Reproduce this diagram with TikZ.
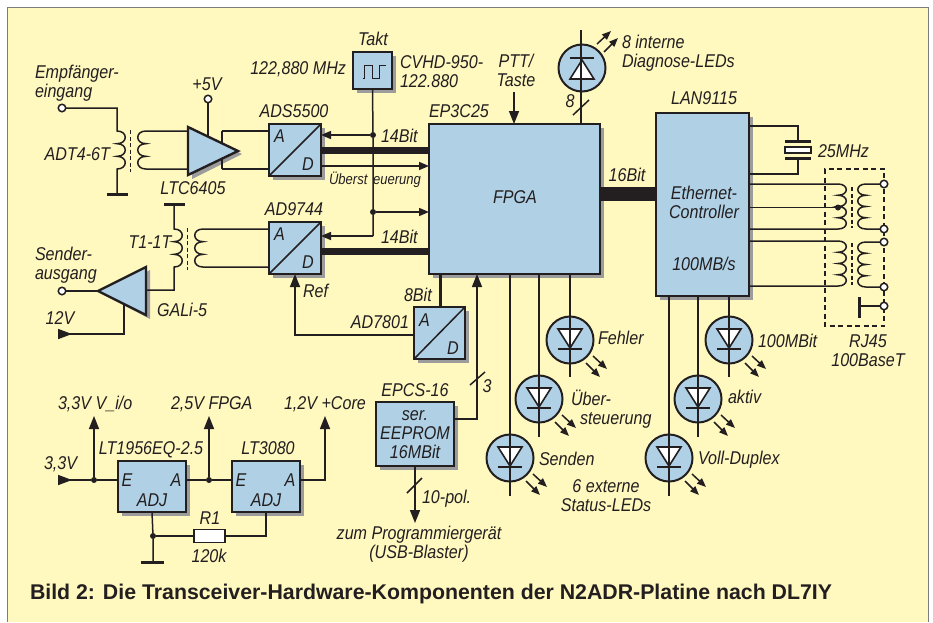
\documentclass[tikz,border=0pt]{standalone}
\usepackage{fontspec}
\setmainfont{Liberation Sans}[FakeStretch=0.87]
\newfontfamily\capfont{Liberation Sans}
\usetikzlibrary{arrows.meta,calc}
\definecolor{bgc}{HTML}{FFF8BF}
\definecolor{ink}{HTML}{231F20}
\definecolor{blu}{HTML}{B0D1E5}
\definecolor{shd}{HTML}{9C9C9C}
\newcommand\labfont{\fontsize{18.5}{19}\selectfont\itshape}
\newcommand\tops{\rule{0pt}{13.5pt}}
\newcommand\bots{\rule[-5pt]{0pt}{5pt}}
\newcommand\blk[5]{%
  \fill[shd] ({#2-#4/2+3.5},{#3-#5/2+3.5}) rectangle ({#2+#4/2+4},{#3+#5/2+4});
  \node[bx,minimum width=#4pt,minimum height=#5pt] (#1) at (#2,#3) {};}
\newcommand\led[1]{%
  \begin{scope}[shift={(#1)}]
    \draw[diode,fill=white] (-12,-11) -- (12,-11) -- (0,8) -- cycle;
    \draw[line width=2.6pt,ink] (-12,9) -- (12,9);
    \draw[lite] (23,16) -- (37,29);
    \draw[lite] (16,23) -- (30,37);
  \end{scope}}
\tikzset{
  wire/.style={draw=ink,line width=1.5pt},
  corel/.style={draw=ink,line width=1.5pt,dash pattern=on 4pt off 2.5pt},
  bus/.style={draw=ink,line width=7pt},
  tip/.style={wire,-{Triangle[length=10pt,width=8pt]}},
  bigtip/.style={wire,-{Triangle[length=13pt,width=10pt]}},
  lite/.style={wire,-{Triangle[length=9pt,width=7pt]}},
  diode/.style={draw=ink,line width=1.6pt},
  bx/.style={draw=ink,fill=blu,line width=2.2pt,inner sep=0pt,outer sep=0pt},
  ledc/.style={circle,draw=ink,fill=blu,line width=2pt,minimum size=47pt,inner sep=0pt,outer sep=0pt},
  term/.style={circle,draw=ink,fill=white,line width=1.5pt,minimum size=7.5pt,inner sep=0pt,outer sep=0pt},
  jun/.style={circle,fill=ink,minimum size=6pt,inner sep=0pt,outer sep=0pt},
  gnd/.style={draw=ink,line width=3pt},
  lab/.style={font=\labfont,text=ink,inner sep=0pt,outer sep=0pt,text height=13.5pt,text depth=5pt,yshift=-2.5pt},
  labm/.style={font=\labfont,text=ink,inner sep=0pt,outer sep=0pt,yshift=-2.5pt},
}
\begin{document}
\begin{tikzpicture}[x=1pt,y=-1pt]
\useasboundingbox (0,0) rectangle (933,622);
\fill[white] (0,0) rectangle (933,622);
\fill[bgc] (7,7) rectangle (928,622);
\draw[shd!80!black,line width=1pt] (7,622) -- (7,7) -- (928,7) -- (928,622);

% blocks
\blk{fpga}{514.5}{199}{171}{150}
\blk{lan}{702.5}{204.5}{93}{183}
\blk{ads}{295}{150}{52}{52}
\blk{dac}{295}{248}{52}{52}
\blk{ad78}{439.5}{333}{51}{52}
\blk{takt}{372.5}{70.5}{39}{37}
\blk{eep}{415}{434}{78}{64}
\blk{lt1}{152}{486.5}{68}{51}
\blk{lt2}{266}{486.5}{68}{51}

% converter diagonals, clock symbol
\draw[wire] (ads.south west) -- (ads.north east);
\draw[wire] (dac.south west) -- (dac.north east);
\draw[wire] (ad78.south west) -- (ad78.north east);
\draw[wire] ($(takt.center)+(-10,8)$) -- ++(2,0) -- ++(0,-13) -- ++(8,0) -- ++(0,13) -- ++(7,0) -- ++(0,-13) -- ++(6,0);

% amplifiers
\fill[shd] (192,130) -- (192,179) -- (242,154) -- cycle;
\fill[shd] (150,270) -- (150,319) -- (102,294) -- cycle;
\coordinate (ampaT) at (188,131);
\coordinate (ampaB) at (188,169);
\coordinate (ampbI) at (146,290);
\coordinate (ampbT) at (98,291);
\draw[wire] (222,131) -- (ads.west |- 0,131);
\draw[wire] (222,169) -- (ads.west |- 0,169);
\draw[wire] (222,131) -- (222,169);
\draw[draw=ink,fill=blu,line width=2.4pt,line join=miter] (188,127) -- (188,175) -- (238,151) -- cycle;
\draw[draw=ink,fill=blu,line width=2.4pt,line join=miter] (146,267) -- (146,315) -- (98,291) -- cycle;

% terminals
\node[term] (tin) at (62,108) {};
\node[term] (t5v) at (208,99) {};
\node[term] (tout) at (62,291) {};
\coordinate (gnda) at (117,194);
\coordinate (gndb) at (174,204);

% input transformer
\def\coilh{12.67}
\draw[wire] (tin) -- (117,108) -- (117,131) \foreach \i in {1,2,3}{ .. controls +(11,0) and +(11,0) .. ++(0,\coilh)} -- (gnda);
\draw[gnd] (107,194.5) -- (128,194.5);
\draw[corel] (130.5,130) -- (130.5,172);
\draw[wire] (ampaT) -- (146,131) \foreach \i in {1,2,3}{ .. controls +(-11,0) and +(-11,0) .. ++(0,\coilh)} -- (ampaB);
\draw[wire] (t5v) -- (208,136);

% output transformer
\draw[wire] (ampbI) -- (174,290) -- (174,267) \foreach \i in {1,2,3}{ .. controls +(11,0) and +(11,0) .. ++(0,-\coilh)} -- (gndb);
\draw[gnd] (164,204.5) -- (185,204.5);
\draw[corel] (187.5,228) -- (187.5,270);
\draw[wire] (dac.west |- 0,229) -- (203,229) \foreach \i in {1,2,3}{ .. controls +(-11,0) and +(-11,0) .. ++(0,\coilh)} -- (dac.west |- 0,267);
\draw[wire] (tout) -- (ampbT);
\draw[wire,{Triangle[length=14pt,width=10pt,reversed]}-] (58,334) -- (124,334) -- (124,304);

% clock distribution
\node[jun] (j1) at (373,135) {};
\node[jun] (j2) at (373,212) {};
\draw[wire] (takt.south) -- (j1) -- (j2) -- (373,236);
\draw[tip] (373,236) -- (dac.east |- 0,236);
\draw[tip] (j1) -- (ads.east |- j1);
\draw[tip] (j2) -- (fpga.west |- j2);
\draw[bus] (ads.east |- 0,150) -- (fpga.west |- 0,150);
\draw[bus] (dac.east |- 0,251) -- (fpga.west |- 0,251);
\draw[tip] (ads.east |- 0,166) -- (fpga.west |- 0,166);

% ref / AD7801 / EEPROM to FPGA
\draw[bigtip] (ad78.west |- 0,335) -- (295,335) -- (dac.south -| 295,0);
\draw[draw=ink,line width=3pt] (fpga.south -| 440,0) -- (ad78.north -| 440,0);
\draw[bigtip] (eep.east |- 0,419) -- (477,419) -- (fpga.south -| 477,0);
\draw[wire] (470,385) -- (485,372);

% top of FPGA
\coordinate (ptt) at (514,92);
\draw[bigtip] (ptt) -- (ptt |- fpga.north);
\node[ledc] (ledi) at (582,68) {};
\begin{scope}[shift={(ledi)}]
  \draw[diode,fill=white] (-12,11) -- (12,11) -- (0,-8) -- cycle;
  \draw[line width=2.6pt,ink] (-12,-10) -- (12,-10);
  \draw[lite] (15,-24) -- (29,-37);
  \draw[lite] (22,-16) -- (36,-30);
\end{scope}
\coordinate (ledt) at (581,30);
\draw[wire] (ledt) -- (ledt |- fpga.north);
\draw[wire] (573,115) -- (589,100);

% bus FPGA - LAN
\draw[draw=ink,line width=14pt] (fpga.east |- 0,194) -- (lan.west |- 0,194);

% status LEDs
\node[ledc] (l1) at (570,340) {};
\node[ledc] (l2) at (539,399) {};
\node[ledc] (l3) at (510,458) {};
\node[ledc] (l4) at (729,340) {};
\node[ledc] (l5) at (698,399) {};
\node[ledc] (l6) at (669,458) {};
\led{l1}\led{l2}\led{l3}\led{l4}\led{l5}\led{l6}
\draw[wire] (l1 |- fpga.south) -- (l1 |- 0,377);
\draw[wire] (l2 |- fpga.south) -- (l2 |- 0,437);
\draw[wire] (l3 |- fpga.south) -- (l3 |- 0,496);
\draw[wire] (l4 |- lan.south) -- (l4 |- 0,377);
\draw[wire] (l5 |- lan.south) -- (l5 |- 0,437);
\draw[wire] (l6 |- lan.south) -- (l6 |- 0,496);

% crystal
\draw[wire] (lan.east |- 0,126) -- (798,126) -- (798,141);
\draw[wire] (798,158) -- (798,174) -- (lan.east |- 0,174);
\draw[gnd] (785,141) -- (811,141);
\draw[gnd] (785,158) -- (811,158);
\draw[draw=ink,fill=white,line width=1.8pt] (785,147) rectangle (811,153);

% RJ45 transformers
\def\coilh{11.25}
\draw[wire] (lan.east |- 0,184) -- (838,184) \foreach \i in {1,2,3,4}{ .. controls +(11,0) and +(11,0) .. ++(0,\coilh)} -- (lan.east |- 0,229);
\node[jun] (jt) at (838,207.5) {};
\draw[wire] (lan.east |- 0,207.5) -- (jt);
\draw[wire] (lan.east |- 0,241) -- (838,241) \foreach \i in {1,2,3,4}{ .. controls +(11,0) and +(11,0) .. ++(0,\coilh)} -- (lan.east |- 0,286);
\draw[corel] (852,187) -- (852,228);
\draw[corel] (852,243) -- (852,285);
\draw[corel,dash pattern=on 5pt off 3.5pt] (884,178) -- (884,169) -- (825,169) -- (825,326) -- (884,326) -- (884,184);
\node[term] (r1) at (884,184) {};
\node[term] (r2) at (884,229) {};
\node[term] (r3) at (884,242) {};
\node[term] (r4) at (884,287) {};
\node[term] (r5) at (884,306) {};
\draw[wire] (r1) -- (866,184) \foreach \i in {1,2,3,4}{ .. controls +(-11,0) and +(-11,0) .. ++(0,\coilh)} -- (r2);
\draw[wire] (r3) -- (866,242) \foreach \i in {1,2,3,4}{ .. controls +(-11,0) and +(-11,0) .. ++(0,\coilh)} -- (r4);
\draw[gnd] (859,297) -- (859,318);
\draw[wire] (859,306) -- (r5);

% EEPROM output
\draw[bigtip] (eep.south) -- (415,523);
\draw[wire] (407,493) -- (422,478);

% power section
\node[jun] (j3) at (94,480) {};
\node[jun] (j4) at (209,480) {};
\node[jun] (j5) at (153,536) {};
\draw[wire,{Triangle[length=14pt,width=10pt,reversed]}-] (58,480) -- (j3);
\draw[wire] (j3) -- (lt1.west |- j3);
\draw[bigtip] (j3) -- (94,416);
\draw[wire] (lt1.east |- j4) -- (j4) -- (lt2.west |- j4);
\draw[bigtip] (j4) -- (209,416);
\draw[bigtip] (lt2.east |- 0,480) -- (325,480) -- (325,416);
\draw[wire] (lt1.south) -- (j5) -- (153,562);
\draw[gnd] (141,562.5) -- (164,562.5);
\node[draw=ink,fill=white,line width=1.8pt,minimum width=31pt,minimum height=13pt,inner sep=0pt,outer sep=0pt] (res) at (209.5,536) {};
\draw[wire] (j5) -- (res);
\draw[wire] (res) -- (266,536) -- (lt2.south);

% labels
\node[lab] (n1) at (373,39) {Takt};
\node[lab,anchor=east] (n2) at (346,68) {122,880 MHz};
\node[labm,anchor=west,align=left] (n3) at (400,71) {\tops CVHD-950-\\\tops 122.880\bots};
\node[labm,anchor=west,align=left] (n4) at (35,81) {\tops Empfänger-\\\tops eingang\bots};
\node[lab] (n5) at (207,84) {+5V};
\node[lab,anchor=east] (n6) at (110,154) {ADT4-6T};
\node[lab] (n7) at (193,188) {LTC6405};
\node[lab] (n8) at (294,111) {ADS5500};
\node[lab,anchor=west] (n9) at (429,111) {EP3C25};
\node[lab,anchor=west] (n10) at (381,136) {14Bit};
\node[lab,anchor=west] (n11) at (381,237) {14Bit};
\node[font=\fontsize{15}{16}\selectfont\itshape,text=ink,inner sep=0pt,outer sep=0pt,anchor=west] (n12) at (329,180) {Überst\hspace{2pt} euerung};
\node[lab] (n13) at (150,242) {T1-1T};
\node[labm,anchor=west,align=left] (n14) at (35,263) {\tops Sender-\\\tops ausgang\bots};
\node[lab,anchor=west] (n15) at (157,310) {GALi-5};
\node[lab] (n16) at (60,318) {12V};
\node[lab] (n17) at (294,209) {AD9744};
\node[lab,anchor=west] (n18) at (303,291) {Ref};
\node[lab,anchor=west] (n19) at (404,295) {8Bit};
\node[lab,anchor=east] (n20) at (409,322) {AD7801};
\node[lab] (a1) at (279.5,136) {A};
\node[lab] (d1) at (308,164) {D};
\node[lab] (a2) at (279.5,234) {A};
\node[lab] (d2) at (308,262) {D};
\node[lab] (a3) at (424.5,320) {A};
\node[lab] (d3) at (453,348) {D};
\node[lab] (n21) at (515,197) {FPGA};
\node[lab] (n22) at (627,175) {16Bit};
\node[lab] (n23) at (704,98) {LAN9115};
\node[labm,align=center] (n24) at (704,202.5) {\tops Ethernet-\\\tops Controller\bots};
\node[lab] (n25) at (704,264) {100MB/s};
\node[lab,anchor=west] (n26) at (818,151) {25MHz};
\node[labm,anchor=west,align=left] (n27) at (622,51.5) {\tops 8 interne\\\tops Diagnose-LEDs\bots};
\node[labm,align=center] (n28) at (516,70.5) {\tops PTT/\\\tops Taste\bots};
\node[lab] (n29) at (570,101) {8};
\node[labm,align=center] (n30) at (868,350) {\tops RJ45\\\tops 100BaseT\bots};
\node[lab,anchor=west] (n31) at (598,338) {Fehler};
\node[labm,anchor=west,align=left] (n32) at (571,407.5) {\tops Über-\\\tops \hspace{9pt}steuerung\bots};
\node[lab,anchor=west] (n33) at (539,459) {Senden};
\node[labm,align=center] (n34) at (606,495) {\tops 6 externe\\\tops Status-LEDs\bots};
\node[lab,anchor=west] (n35) at (758,341) {100MBit};
\node[lab,anchor=west] (n36) at (728,397) {aktiv};
\node[lab,anchor=west] (n37) at (698,458) {Voll-Duplex};
\node[lab,anchor=west] (n38) at (58,403) {3,3V V\_i/o};
\node[lab,anchor=west] (n39) at (171,403) {2,5V FPGA};
\node[lab,anchor=west] (n40) at (284,403) {1,2V +Core};
\node[lab,anchor=west] (n41) at (44,463) {3,3V};
\node[lab] (n42) at (151,448) {LT1956EQ-2.5};
\node[lab] (n43) at (268,448) {LT3080};
\node[lab] (e1) at (127,480) {E};
\node[lab] (a4) at (176,480) {A};
\node[lab] (adj1) at (152,500) {ADJ};
\node[lab] (e2) at (241,480) {E};
\node[lab] (a5) at (290,480) {A};
\node[lab] (adj2) at (266,500) {ADJ};
\node[lab] (n44) at (210,518) {R1};
\node[lab] (n45) at (209,556) {120k};
\node[lab] (n46) at (415,390) {EPCS-16};
\node[labm,align=center] (n47) at (415,432.5) {\tops ser.\\\tops EEPROM\\\tops 16MBit\bots};
\node[lab] (n48) at (487,386) {3};
\node[lab,anchor=west] (n49) at (422,497) {10-pol.};
\node[labm,align=center] (n50) at (419,542.5) {\tops zum Programmiergerät\\\tops (USB-Blaster)\bots};
\node[font=\capfont\bfseries\fontsize{21.3}{23}\selectfont,text=ink,inner sep=0pt,outer sep=0pt,anchor=west] (cap) at (30,594) {Bild 2: Die Transceiver-Hardware-Komponenten der N2ADR-Platine nach DL7IY};
\end{tikzpicture}
\end{document}
